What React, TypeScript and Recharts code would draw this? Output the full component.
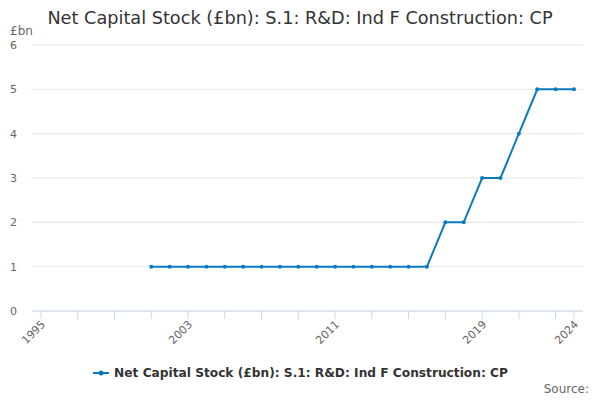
import { LineChart, Line, XAxis, YAxis, CartesianGrid } from 'recharts';

const years = [2001, 2002, 2003, 2004, 2005, 2006, 2007, 2008, 2009, 2010, 2011, 2012, 2013, 2014, 2015, 2016, 2017, 2018, 2019, 2020, 2021, 2022, 2023, 2024];
const values = [1, 1, 1, 1, 1, 1, 1, 1, 1, 1, 1, 1, 1, 1, 1, 1, 2, 2, 3, 3, 4, 5, 5, 5];
const xTicks = [1995, 1997, 1999, 2001, 2003, 2005, 2007, 2009, 2011, 2013, 2015, 2017, 2019, 2021, 2023, 2024];
const xLabels = [1995, 2003, 2011, 2019, 2024];
const yTicks = [0, 1, 2, 3, 4, 5, 6];

const seriesName = 'Net Capital Stock (£bn): S.1: R&D: Ind F Construction: CP';
const lineColor = '#0b7bc1';
const font = '"DejaVu Sans", sans-serif';

const data = years.map((year, i) => ({ year, value: values[i] }));

function XTick(props: any) {
  const { x, y, payload } = props;
  if (!xLabels.includes(payload.value)) return null;
  return (
    <g transform={`translate(${x + 5},${y + 4})`}>
      <text x={0} y={0} textAnchor="end" transform="rotate(-45)" fill="#666" fontSize={11} fontFamily={font}>
        {payload.value}
      </text>
    </g>
  );
}

export default function App() {
  return (
    <div style={{ position: 'absolute', left: 0, top: 0, width: 600, height: 400, background: '#fff', fontFamily: font }}>
      <div style={{ position: 'absolute', top: 8, left: 0, width: 600, textAlign: 'center', fontSize: 17.7, color: '#333' }}>
        {seriesName}
      </div>
      <div style={{ position: 'absolute', top: 24, left: 10, fontSize: 12, color: '#666' }}>£bn</div>
      <LineChart width={600} height={400} data={data} margin={{ top: 45, right: 17, bottom: 59, left: 0 }}>
        <CartesianGrid vertical={false} stroke="#e6e6e6" />
        <XAxis
          dataKey="year"
          type="number"
          domain={[1995, 2024]}
          ticks={xTicks}
          interval={0}
          height={30}
          padding={{ left: 9, right: 9 }}
          axisLine={{ stroke: '#ccd6eb' }}
          tickLine={{ stroke: '#ccd6eb' }}
          tickSize={8}
          tick={<XTick />}
        />
        <YAxis
          domain={[0, 6]}
          ticks={yTicks}
          width={32}
          axisLine={false}
          tickLine={false}
          tickSize={0}
          tickMargin={15}
          tick={{ fill: '#666', fontSize: 11, fontFamily: font }}
        />
        <Line
          dataKey="value"
          name={seriesName}
          stroke={lineColor}
          strokeWidth={2}
          dot={{ r: 2, fill: lineColor, stroke: lineColor, strokeWidth: 0 }}
          isAnimationActive={false}
        />
      </LineChart>
      <div style={{ position: 'absolute', top: 366, left: 0, width: 600, display: 'flex', justifyContent: 'center', alignItems: 'center' }}>
        <svg width={18} height={10} style={{ marginRight: 4 }}>
          <line x1={1} y1={5} x2={17} y2={5} stroke={lineColor} strokeWidth={2} />
          <circle cx={9} cy={5} r={2.5} fill={lineColor} />
        </svg>
        <span style={{ fontSize: 12.2, fontWeight: 'bold', color: '#333' }}>{seriesName}</span>
      </div>
      <div style={{ position: 'absolute', top: 382, right: 11, fontSize: 12, color: '#666' }}>Source:</div>
    </div>
  );
}
